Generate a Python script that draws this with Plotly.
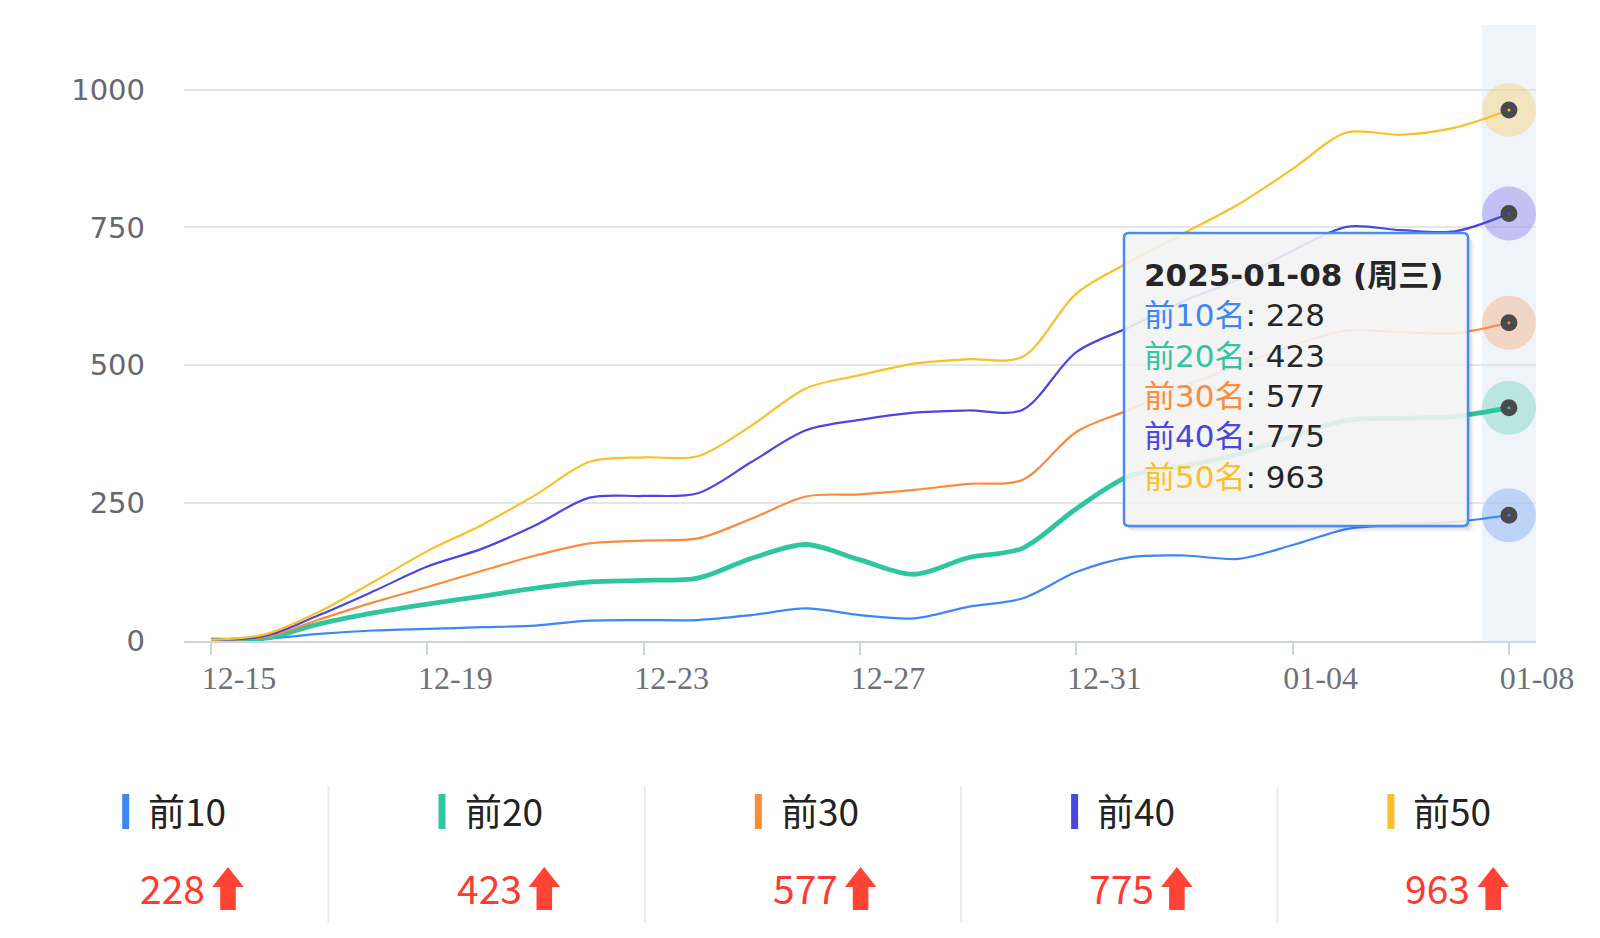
import plotly.graph_objects as go

# ---------------- data ----------------
dates = ["12-15", "12-16", "12-17", "12-18", "12-19", "12-20", "12-21", "12-22",
         "12-23", "12-24", "12-25", "12-26", "12-27", "12-28", "12-29", "12-30",
         "12-31", "01-01", "01-02", "01-03", "01-04", "01-05", "01-06", "01-07", "01-08"]
tick_labels = ["12-15", "12-19", "12-23", "12-27", "12-31", "01-04", "01-08"]
y_ticks = [0, 250, 500, 750, 1000]

series_names = ["前10", "前20", "前30", "前40", "前50"]
top10 = [1, 4, 13, 19, 22, 25, 28, 37, 38, 38, 47, 59, 47, 41, 62, 77, 125, 152, 155, 149, 174, 203, 211, 216, 228]
top20 = [2, 5, 31, 51, 67, 81, 96, 107, 110, 114, 150, 175, 147, 121, 151, 168, 240, 300, 317, 339, 371, 400, 404, 407, 423]
top30 = [2, 7, 39, 70, 98, 127, 155, 177, 182, 186, 222, 262, 266, 274, 285, 292, 379, 420, 462, 500, 536, 563, 560, 558, 577]
top40 = [2, 9, 47, 90, 135, 167, 210, 260, 263, 268, 325, 382, 401, 414, 418, 419, 524, 570, 617, 656, 708, 751, 745, 743, 775]
top50 = [2, 12, 53, 107, 163, 210, 265, 325, 333, 335, 391, 458, 482, 503, 511, 515, 630, 688, 740, 792, 856, 922, 918, 931, 963]
tooltip_title = "2025-01-08 (周三)"

series_values = [top10, top20, top30, top40, top50]
colors = ["#3d86f5", "#2ec6a0", "#fb8b3d", "#4a46e3", "#fbbf28"]
widths = [2.2, 4.8, 2.2, 2.2, 2.2]

# ---------------- geometry helpers ----------------
W, H = 1600, 938
PL, PR, PT, PB = 184, 1536, 25, 641
PW, PH = PR - PL, PB - PT


def px(x):
    return (x - PL) / PW


def py(y):
    return (PB - y) / PH


def rrect(x0, y0, x1, y1, r):
    rx, ry = r / PW, r / PH
    a0, a1 = px(x0), px(x1)
    b0, b1 = py(y0), py(y1)  # b0 top (larger), b1 bottom
    return (f"M {a0+rx},{b0} L {a1-rx},{b0} Q {a1},{b0} {a1},{b0-ry} "
            f"L {a1},{b1+ry} Q {a1},{b1} {a1-rx},{b1} L {a0+rx},{b1} "
            f"Q {a0},{b1} {a0},{b1+ry} L {a0},{b0-ry} Q {a0},{b0} {a0+rx},{b0} Z")


fig = go.Figure()

last = dates[-1]
# lines
for name, vals, c, w in zip(series_names, series_values, colors, widths):
    fig.add_trace(go.Scatter(x=dates, y=vals, mode="lines", name=name,
                             line=dict(color=c, width=w, shape="spline", smoothing=0.9),
                             showlegend=False, hoverinfo="skip"))
# halos
for vals, c in zip(series_values, colors):
    fig.add_trace(go.Scatter(x=[last], y=[vals[-1]], mode="markers",
                             marker=dict(size=54, color=c, opacity=0.28),
                             showlegend=False, hoverinfo="skip"))
# dots
for vals, c in zip(series_values, colors):
    fig.add_trace(go.Scatter(x=[last], y=[vals[-1]], mode="markers",
                             marker=dict(size=10, color=c, line=dict(color="#4a4a4a", width=7)),
                             showlegend=False, hoverinfo="skip"))

shapes = []
annotations = []

# highlight band
shapes.append(dict(type="rect", xref="x", yref="paper", x0=len(dates) - 1.5, x1=len(dates) - 0.5,
                   y0=0, y1=1, fillcolor="#eff3fa", line=dict(width=0), layer="below"))

# tooltip box with shadow
tx0, ty0, tx1, ty1 = 1124, 233, 1468, 526
for off, op in [(6, 0.04), (4, 0.06), (2, 0.08)]:
    shapes.append(dict(type="path", xref="paper", yref="paper",
                       path=rrect(tx0 + off - 1, ty0 + off, tx1 + off, ty1 + off, 6),
                       fillcolor=f"rgba(0,0,0,{op})", line=dict(width=0), layer="above"))
shapes.append(dict(type="path", xref="paper", yref="paper", path=rrect(tx0, ty0, tx1, ty1, 5),
                   fillcolor="rgba(248,248,248,0.88)", line=dict(color="#4a8bf4", width=2.5),
                   layer="above"))

tip_lines = [f"<b>{tooltip_title}</b>"]
for name, vals, c in zip(series_names, series_values, colors):
    tip_lines.append(f"<span style='color:{c}'>{name}名</span>: {vals[-1]}")
annotations.append(dict(xref="paper", yref="paper", x=px(1142), y=py(375.5), xanchor="left",
                        yanchor="middle", align="left", showarrow=False,
                        text="<br>".join(tip_lines),
                        font=dict(family="DejaVu Sans, Noto Sans CJK SC", size=31, color="#262626")))

# bottom summary strip
for k, (name, vals, c) in enumerate(zip(series_names, series_values, colors)):
    L = 12.2 + 316.3 * k
    if k > 0:
        shapes.append(dict(type="line", xref="paper", yref="paper", x0=px(L), x1=px(L),
                           y0=py(786), y1=py(923), line=dict(color="#ececec", width=2)))
    shapes.append(dict(type="rect", xref="paper", yref="paper", x0=px(L + 110), x1=px(L + 117),
                       y0=py(829), y1=py(794), fillcolor=c, line=dict(width=0)))
    annotations.append(dict(xref="paper", yref="paper", x=px(L + 134), y=py(810), xanchor="left",
                            yanchor="middle", showarrow=False, text=name,
                            font=dict(family="Noto Sans CJK SC", size=37, color="#222222")))
    annotations.append(dict(xref="paper", yref="paper", x=px(L + 126), y=py(887), xanchor="left",
                            yanchor="middle", showarrow=False, text=str(vals[-1]),
                            font=dict(family="Noto Sans CJK SC", size=39, color="#ff3b30")))
    ax = L + 200
    aw, sw = 31.6, 15.6
    cx = ax + aw / 2
    path = (f"M {px(cx)},{py(867)} L {px(ax + aw)},{py(887)} L {px(cx + sw/2)},{py(887)} "
            f"L {px(cx + sw/2)},{py(910)} L {px(cx - sw/2)},{py(910)} L {px(cx - sw/2)},{py(887)} "
            f"L {px(ax)},{py(887)} Z")
    shapes.append(dict(type="path", xref="paper", yref="paper", path=path,
                       fillcolor="#ff4436", line=dict(width=0)))

fig.update_layout(
    width=W, height=H,
    margin=dict(l=PL, r=W - PR, t=PT, b=H - PB),
    paper_bgcolor="white", plot_bgcolor="white",
    hovermode=False, showlegend=False,
    shapes=shapes, annotations=annotations,
    xaxis=dict(type="category", categoryorder="array", categoryarray=dates,
               range=[-0.5, len(dates) - 0.5], tickmode="array",
               tickvals=tick_labels, ticktext=tick_labels, ticks="outside", ticklen=12,
               tickwidth=2, tickcolor="#ccd3e6", showline=True, linecolor="#ccd3e6",
               linewidth=2, showgrid=False, zeroline=False, ticklabelshift=28,
               ticklabelstandoff=-4,
               tickfont=dict(family="Liberation Serif", size=32, color="#6e7079")),
    yaxis=dict(range=[0, 1117], tickmode="array", tickvals=y_ticks, showgrid=True,
               gridcolor="#e6e6e6", gridwidth=2, zeroline=False, showline=False, ticks="",
               ticklabelstandoff=38,
               tickfont=dict(family="DejaVu Sans", size=29, color="#666870")),
)

fig.write_html("out.html")
